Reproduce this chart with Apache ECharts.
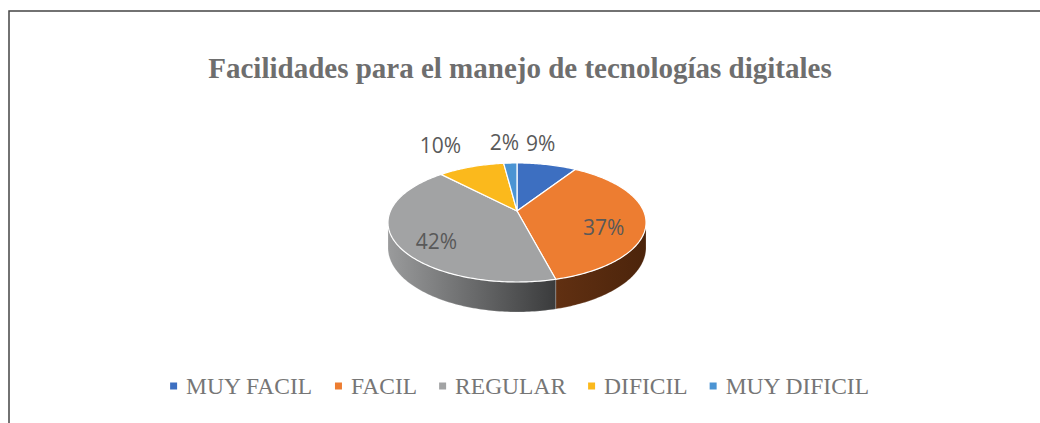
<!DOCTYPE html>
<html>
<head>
<meta charset="utf-8">
<title>Facilidades para el manejo de tecnologías digitales</title>
<script src="https://cdn.jsdelivr.net/npm/echarts@6/dist/echarts.min.js"></script>
<style>
  html, body { margin: 0; padding: 0; background: #ffffff; }
  #chart { width: 1040px; height: 423px; }
</style>
</head>
<body>
<div id="chart"></div>
<script>
// Survey answers (percent of respondents)
const categories = ['MUY FACIL', 'FACIL', 'REGULAR', 'DIFICIL', 'MUY DIFICIL'];
const percentages = [9, 37, 42, 10, 2];
const titleText = 'Facilidades para el manejo de tecnologías digitales';

// Palette: top faces and the two ends of each side-wall gradient
const sliceColors = ['#3d6fc1', '#ed7d31', '#a2a3a4', '#fbb91c', '#4b94d3'];
const wallColors = [
  ['#2d528f', '#233f70'],
  ['#613012', '#4c240b'],
  ['#9a9b9c', '#3a3b3c'],
  ['#b4860f', '#8c660b'],
  ['#376c9a', '#2a5479']
];

// Tilted disc seen in perspective: apex, half axes, perspective factor, thickness
const disc = { cx: 517, cy: 211, A: 126.6, B: 57.3, k: 0.193, depth: 24.2 };

const total = percentages.reduce((a, b) => a + b, 0);
const TAU = Math.PI * 2;
const wallFrom = Math.acos(-disc.k);      // silhouette on the right
const wallTo = TAU - wallFrom;             // silhouette on the left

function project(theta, r, down) {
  const u = r * Math.sin(theta);
  const v = r * Math.cos(theta);
  const s = 1 / (1 + disc.k * v);
  return [disc.cx + disc.A * u * s, disc.cy - disc.B * v * s + down * disc.depth * s];
}

function arc(a0, a1, down) {
  const pts = [];
  const n = Math.max(2, Math.ceil((a1 - a0) / (Math.PI / 180)));
  for (let j = 0; j <= n; j++) pts.push(project(a0 + (a1 - a0) * j / n, 1, down));
  return pts;
}

function startOf(index) {
  let acc = 0;
  for (let j = 0; j < index; j++) acc += percentages[j];
  return acc / total * TAU;
}

function renderSlice(params, api) {
  const i = params.seriesIndex;
  const value = api.value(0);
  const a0 = startOf(i);
  const a1 = a0 + value / total * TAU;
  const children = [];

  // front wall of the slice
  const w0 = Math.max(a0, wallFrom);
  const w1 = Math.min(a1, wallTo);
  if (w1 > w0) {
    const top = arc(w0, w1, 0);
    const bottom = arc(w0, w1, 1).reverse();
    const xs = top.map(p => p[0]);
    children.push({
      type: 'polygon',
      shape: { points: top.concat(bottom) },
      style: {
        fill: new echarts.graphic.LinearGradient(Math.min(...xs), 0, Math.max(...xs), 0, [
          { offset: 0, color: wallColors[i][0] },
          { offset: 1, color: wallColors[i][1] }
        ], true),
        stroke: 'rgba(255,255,255,0.35)',
        lineWidth: 0.6
      }
    });
  }

  // top face
  children.push({
    type: 'polygon',
    shape: { points: [[disc.cx, disc.cy]].concat(arc(a0, a1, 0)) },
    style: { fill: sliceColors[i], stroke: '#ffffff', lineWidth: 1.2 }
  });

  // percentage label
  const mid = (a0 + a1) / 2;
  const label = { text: value + '%', fill: '#595959', fontSize: 21, fontFamily: 'Open Sans' };
  if (value >= 15) {
    const p = project(mid, 0.68, 0);
    Object.assign(label, { x: p[0], y: p[1] + 10, align: 'center', verticalAlign: 'middle' });
  } else {
    const p = project(mid, 1, 0);
    if (Math.sin(mid) < -0.3) {
      Object.assign(label, { x: p[0] - 10, y: p[1] - 11, align: 'right', verticalAlign: 'bottom' });
    } else {
      Object.assign(label, { x: p[0] - 6, y: p[1] - 11, align: 'center', verticalAlign: 'bottom' });
    }
  }
  children.push({ type: 'text', style: label, z2: 10 });

  return { type: 'group', children };
}

const chart = echarts.init(document.getElementById('chart'), null, { renderer: 'svg' });

chart.setOption({
  animation: false,
  backgroundColor: '#ffffff',
  color: sliceColors,
  title: {
    text: titleText,
    left: 'center',
    top: 48,
    textStyle: { fontFamily: 'Liberation Serif', fontWeight: 'bold', fontSize: 29, color: '#6e6e6e' }
  },
  legend: {
    data: categories,
    left: 'center',
    top: 369,
    icon: 'rect',
    itemWidth: 7,
    itemHeight: 7,
    itemGap: 22,
    textStyle: { fontFamily: 'Liberation Serif', fontSize: 23.5, color: '#767676', padding: [0, 0, 0, 4] }
  },
  graphic: [{
    type: 'polyline',
    shape: { points: [[9, 423], [9, 11], [1040, 11]] },
    style: { stroke: '#444444', lineWidth: 1.5, fill: null }
  }],
  series: categories.map((name, i) => ({
    type: 'custom',
    name: name,
    coordinateSystem: 'none',
    itemStyle: { color: sliceColors[i] },
    renderItem: renderSlice,
    data: [[percentages[i]]]
  }))
});
</script>
</body>
</html>
